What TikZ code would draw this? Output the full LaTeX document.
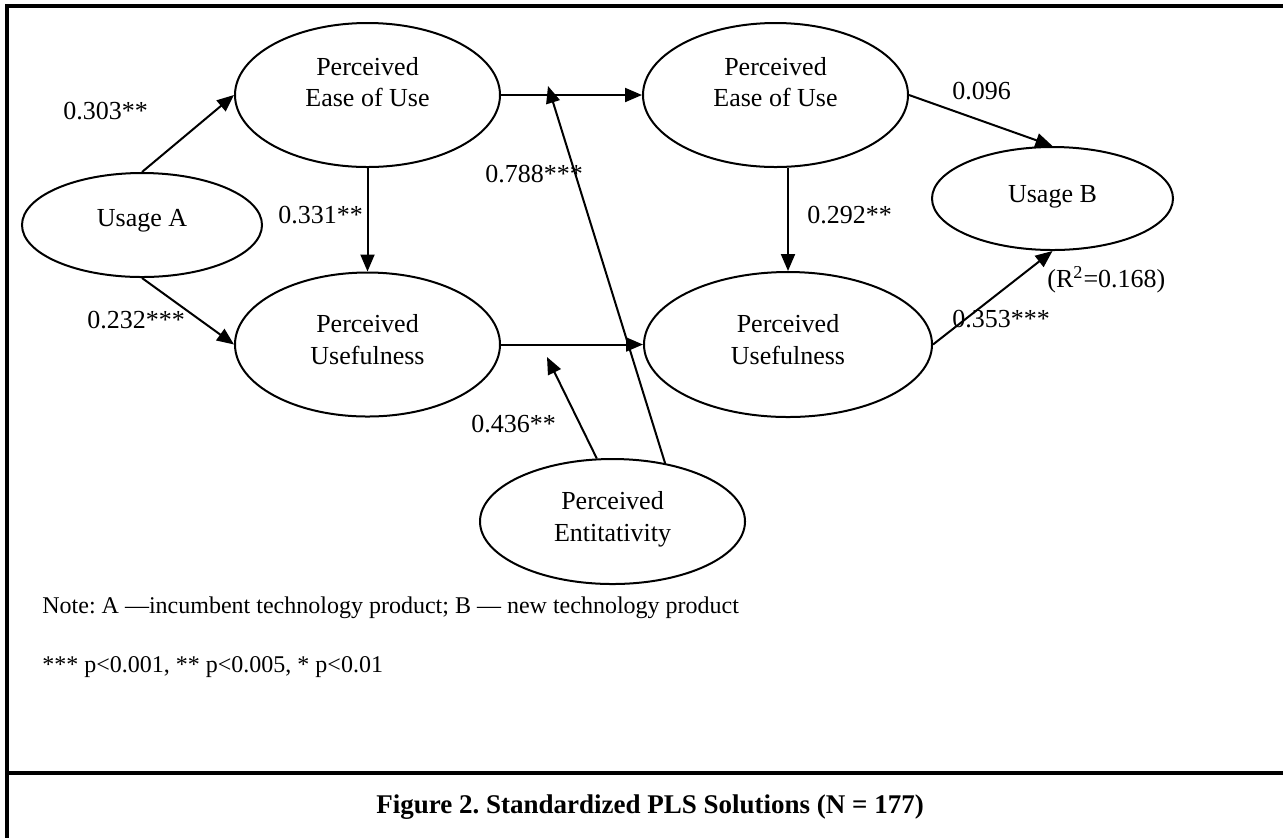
\documentclass[tikz,border=0pt]{standalone}
\usepackage{fontspec}
\setmainfont{Liberation Serif}
\frenchspacing
\usetikzlibrary{shapes.geometric,arrows.meta}
\tikzset{
    latent/.style={draw, ellipse, line width=1pt, inner sep=0pt, align=center,
        text depth=0pt, font=\fontsize{13}{15.6}\selectfont},
    coef/.style={anchor=base west, inner sep=0pt, font=\fontsize{13}{15.6}\selectfont},
    note/.style={anchor=base west, inner sep=0pt, font=\fontsize{12}{14.4}\selectfont},
    link/.style={-{Triangle[length=8.5pt,width=7pt]}, line width=1pt}
}
\begin{document}
\begin{tikzpicture}[x=0.5pt, y=-0.5pt]
                    \useasboundingbox (0,0) rectangle (1283,837);
                    \draw[line width=1.8pt] (1295,6) -- (7,6) -- (7,850);
                    \draw[line width=1.8pt] (7,773) -- (1295,773);

                    \node[latent, minimum width=120pt, minimum height=52pt, text height=1.6pt] (ua) at (142,225) {Usage A};
                    \node[latent, minimum width=132.5pt, minimum height=72pt, text height=11.6pt] (peou1) at (367.5,95) {Perceived\\Ease of Use};
                    \node[latent, minimum width=132.5pt, minimum height=72pt, text height=19.6pt] (pu1) at (367.5,344.5) {Perceived\\Usefulness};
                    \node[latent, minimum width=132.5pt, minimum height=72pt, text height=11.6pt] (peou2) at (775.5,95) {Perceived\\Ease of Use};
                    \node[latent, minimum width=144pt, minimum height=72.5pt, text height=19.6pt] (pu2) at (788,344.5) {Perceived\\Usefulness};
                    \node[latent, minimum width=120.5pt, minimum height=51.5pt, text height=3.6pt] (ub) at (1052.5,198.5) {Usage B};
                    \node[latent, minimum width=132.5pt, minimum height=62.5pt, text height=19.6pt] (pe) at (612.5,521.5) {Perceived\\Entitativity};

                    \coordinate (m1) at (548,86);
                    \coordinate (m2) at (547,357);

                    \draw[link] (ua.north) -- (peou1.west);
                    \draw[link] (ua.south) -- (pu1.west);
                    \draw[link] (peou1.south) -- (pu1.north);
                    \draw[link] (peou1.east) -- (peou2.west);
                    \draw[link] (pu1.east) -- (pu2.west);
                    \draw[link] (pu2.north |- peou2.south) -- (pu2.north);
                    \draw[link] (peou2.east) -- (ub.north);
                    \draw[link] (pu2.east) -- (ub.south);
                    \draw[link] (pe.104) -- (m2);
                    \draw[link] (pe.48) -- (m1);

                    \node[coef] (c1) at (63,119) {0.303**};
                    \node[coef] (c2) at (87,328) {0.232***};
                    \node[coef] (c3) at (278,223) {0.331**};
                    \node[coef] (c4) at (485,182) {0.788***};
                    \node[coef] (c5) at (807,223) {0.292**};
                    \node[coef] (c6) at (952,99) {0.096};
                    \node[coef] (r2) at (1047,287) {(R\textsuperscript{2}=0.168)};
                    \node[coef] (c7) at (952,327) {0.353***};
                    \node[coef] (c8) at (471,432) {0.436**};

                    \node[note] (n1) at (42,613) {Note: A ---incumbent technology product; B --- new technology product};
                    \node[note] (n2) at (42,672) {*** p<0.001, ** p<0.005, * p<0.01};
                    \node[note, font=\fontsize{13.5}{16}\selectfont\bfseries] (title) at (376,813) {Figure 2. Standardized PLS Solutions (N = 177)};
\end{tikzpicture}
\end{document}
